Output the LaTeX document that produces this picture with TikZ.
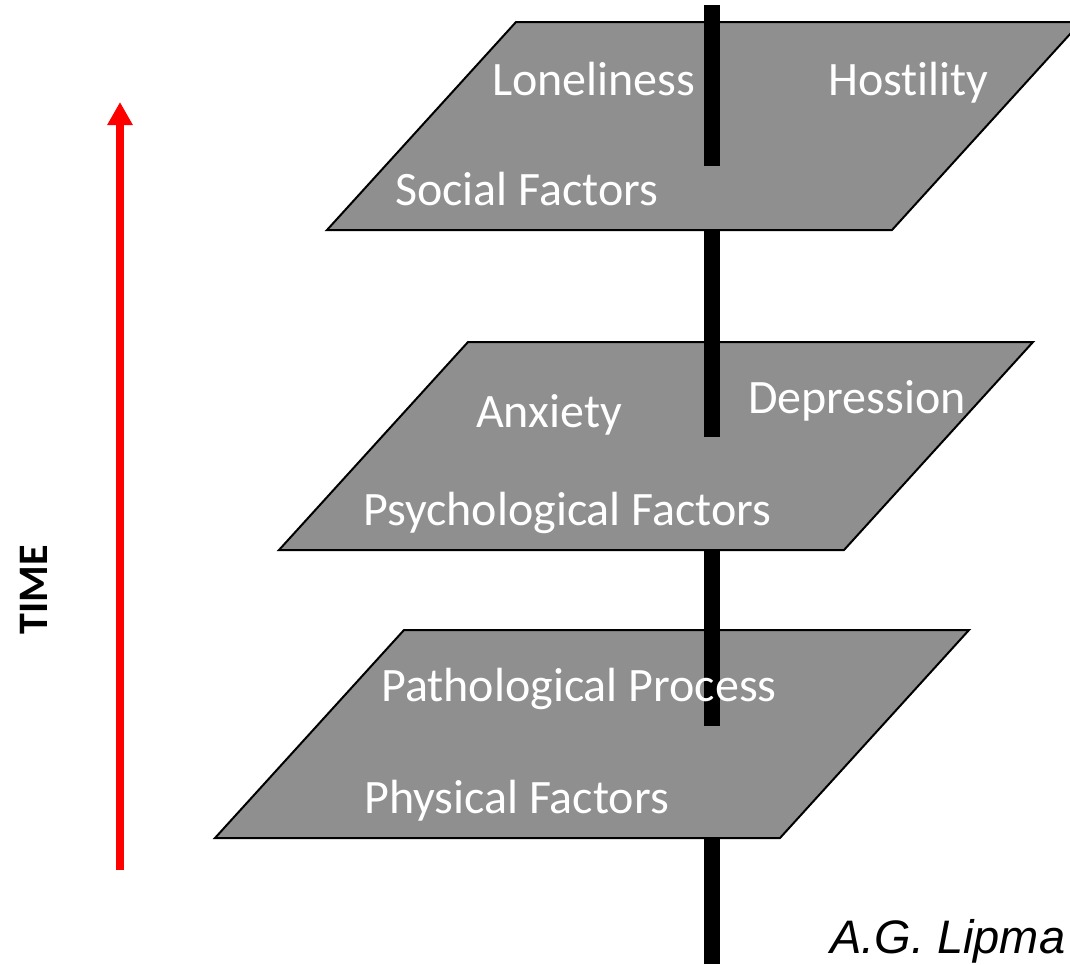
\documentclass[tikz,border=0pt]{standalone}
\usepackage{fontspec}
\setmainfont{Carlito}[Ligatures=NoCommon]
\newfontfamily\arialfont{Liberation Sans}
\usetikzlibrary{arrows.meta}
\definecolor{planegray}{RGB}{143,143,143}
\definecolor{arrowred}{RGB}{255,0,0}
\tikzset{
  plane/.style={fill=planegray,draw=black,line width=2pt,line join=miter},
  bar/.style={line width=16pt,draw=black},
  lbl/.style={text=white,inner sep=0pt,anchor=base west,font=\fontsize{48}{56}\selectfont},
  timearrow/.style={draw=arrowred,line width=8pt,-{Triangle[width=24pt,length=23pt]}},
}
\begin{document}
\begin{tikzpicture}[x=1pt,y=-1pt]
\useasboundingbox (0,0) rectangle (1070,964);
\clip (0,0) rectangle (1070,964);
% vertical bar (passes below the planes)
\coordinate (bartop) at (712,5);
\coordinate (barbot) at (712,964);
\draw[bar] (bartop) -- (barbot);
% planes
\draw[plane] (516,22) -- (1081,22) -- (892,230) -- (327,230) -- cycle;
\draw[plane] (468,342) -- (1033,342) -- (844,550) -- (279,550) -- cycle;
\draw[plane] (404,630) -- (969,630) -- (780,838) -- (215,838) -- cycle;
% bar parts above the planes
\coordinate (p1end) at (712,166);
\coordinate (p2top) at (712,341);
\coordinate (p2end) at (712,437);
\coordinate (p3top) at (712,629);
\coordinate (p3end) at (712,726);
\draw[bar] (bartop) -- (p1end);
\draw[bar] (p2top) -- (p2end);
\draw[bar] (p3top) -- (p3end);
% labels
\node[lbl] (lon) at (492,95) {Loneliness};
\node[lbl] (hos) at (828,95) {Hostility};
\node[lbl] (soc) at (395,205) {Social Factors};
\node[lbl] (anx) at (476,427) {Anxiety};
\node[lbl] (dep) at (748,413) {Depression};
\node[lbl] (psy) at (363,525) {Psychological Factors};
\node[lbl] (pat) at (381,701) {Pathological Process};
\node[lbl] (phy) at (364,813) {Physical Factors};
% time arrow
\coordinate (tstart) at (120,870);
\coordinate (tend) at (120,102);
\draw[timearrow] (tstart) -- (tend);
\node[rotate=90,inner sep=0pt,font=\fontsize{42}{50}\selectfont\bfseries] (time) at (34,590) {TIME};
% author
\node[inner sep=0pt,anchor=base west,font=\arialfont\itshape\fontsize{47}{56}\selectfont] (auth) at (830,953) {A.G. Lipma};
\end{tikzpicture}
\end{document}
